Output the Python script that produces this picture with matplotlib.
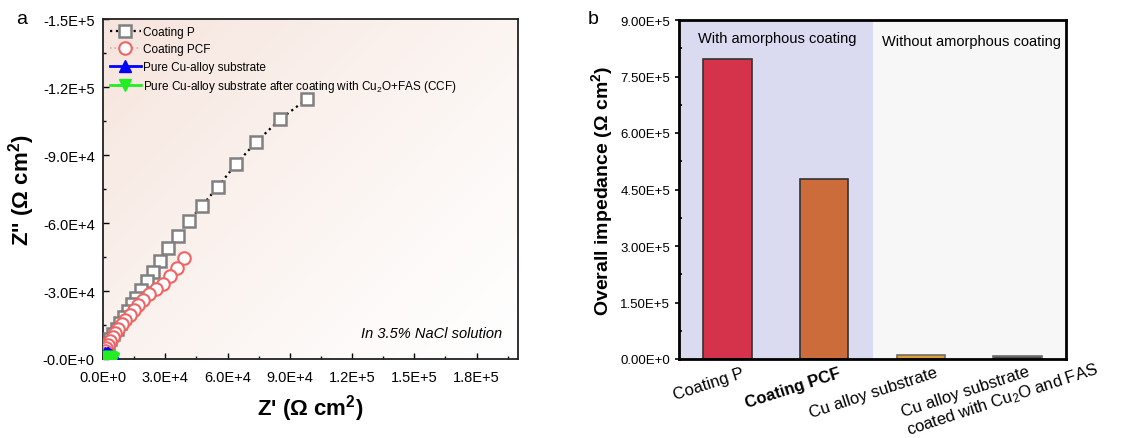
import numpy as np
import matplotlib
matplotlib.use("Agg")
import matplotlib.pyplot as plt
from matplotlib.ticker import MultipleLocator, FuncFormatter
from matplotlib.transforms import ScaledTranslation

plt.rcParams['font.family'] = ['Liberation Sans', 'DejaVu Sans']
plt.rcParams['mathtext.fontset'] = 'custom'
plt.rcParams['mathtext.rm'] = 'Liberation Sans'
plt.rcParams['mathtext.it'] = 'Liberation Sans:italic'
plt.rcParams['mathtext.bf'] = 'Liberation Sans:bold'

# --- panel a: Nyquist data (Z', -Z'') ---
p_re = [98400, 85300, 73800, 64000, 55200, 47700, 41600, 36300, 31500, 27700,
        24200, 21000, 18100, 15800, 13800, 12000, 10000, 8200, 6600, 5000,
        3600, 2400, 1400, 700, 200]
p_im = [114800, 105700, 95700, 85900, 75800, 67600, 61100, 54400, 48800, 43200,
        38600, 34200, 30500, 27100, 24100, 21300, 18500, 15800, 13400, 11000,
        8800, 6800, 4800, 3000, 1200]

pcf_re = [39200, 35700, 32500, 29000, 25600, 22400, 19500, 16800, 14700, 12800,
          10700, 9000, 7400, 6000, 4700, 3500, 2500, 1600, 900, 400, 100]
pcf_im = [44700, 40300, 36800, 33300, 30800, 28600, 26100, 23900, 21700, 19500,
          17300, 15300, 13300, 11400, 9600, 7900, 6300, 4800, 3400, 2100, 900]

cu_re = [600, 1200, 1800, 2400, 3000, 3800, 4600, 5600]
cu_im = [1800, 2500, 2700, 2600, 2200, 1600, 900, 300]

ccf_re = [300, 800, 1400, 2000, 2700, 3400, 4200, 5000]
ccf_im = [200, 500, 700, 800, 800, 700, 500, 200]

# --- panel b: overall impedance ---
categories = ["Coating P", "Coating PCF", "Cu alloy substrate",
              "Cu alloy substrate\ncoated with Cu$_2$O and FAS"]
impedance = [7.97e5, 4.77e5, 1.1e4, 7.0e3]
bar_colors = ['#d5334b', '#cc6c3b', '#e0a030', '#505050']
bar_edges = ['#333333', '#333333', '#6e6e6e', '#6e6e6e']


def sci(v, nd):
    v = round(v, 3)
    if v == 0:
        return f"{0:.{nd}f}E+0"
    e = int(np.floor(np.log10(abs(v)) + 1e-9))
    m = round(v / 10 ** e, nd)
    return f"{m:.{nd}f}E{'+' if e >= 0 else '-'}{abs(e)}"


fig = plt.figure(figsize=(11.48, 4.39), dpi=100)

# ---------------- panel a ----------------
ax1 = fig.add_axes([103 / 1148, 79 / 439, 415 / 1148, 340 / 439])

# soft pink gradient background
gx, gy = np.meshgrid(np.linspace(0, 1, 200), np.linspace(0, 1, 200))
t = np.clip(0.55 * (1 - gx) + 0.45 * gy, 0, 1) ** 1.2
pink = np.array([0.965, 0.895, 0.865])
img = np.ones((200, 200, 3)) * (1 - t[..., None]) + pink * t[..., None]
ax1.imshow(img, extent=(0, 1, 0, 1), transform=ax1.transAxes, origin='lower',
           aspect='auto', zorder=0)

ax1.plot(p_re, -np.array(p_im), linestyle=':', color='black', lw=1.6,
         marker='s', ms=8, mfc='white', mec='#808080', mew=1.8,
         label='Coating P', zorder=3)
ax1.plot(pcf_re, -np.array(pcf_im), linestyle=':', color='#f4a0a0', lw=1.2,
         marker='o', ms=9, mfc='white', mec='#f06464', mew=1.5,
         label='Coating PCF', zorder=4)
ax1.plot(cu_re, -np.array(cu_im), linestyle='-', color='blue', lw=2,
         marker='^', ms=9, label='Pure Cu-alloy substrate', zorder=5)
ax1.plot(ccf_re, -np.array(ccf_im), linestyle='-', color='#22ee22', lw=2,
         marker='v', ms=9,
         label='Pure Cu-alloy substrate after coating with Cu$_2$O+FAS (CCF)',
         zorder=6)

ax1.set_xlim(0, 2.0e5)
ax1.set_ylim(0, -1.5e5)
ax1.xaxis.set_major_locator(MultipleLocator(3e4))
ax1.xaxis.set_minor_locator(MultipleLocator(1.5e4))
ax1.yaxis.set_major_locator(MultipleLocator(3e4))
ax1.yaxis.set_minor_locator(MultipleLocator(1.5e4))
ax1.xaxis.set_major_formatter(FuncFormatter(lambda v, p: sci(v, 1)))
ax1.yaxis.set_major_formatter(FuncFormatter(lambda v, p: "-" + sci(abs(v), 1)))
ax1.tick_params(which='major', direction='in', length=4, width=1, labelsize=10.5)
ax1.tick_params(axis='x', which='major', pad=8)
ax1.tick_params(axis='y', which='major', pad=6)
ax1.tick_params(which='minor', direction='in', length=2.5, width=1)
for s in ax1.spines.values():
    s.set_linewidth(1.3)
    s.set_color('#222222')

ax1.set_xlabel("Z' (Ω cm$^\\mathbf{2}$)", fontsize=16, fontweight='bold', labelpad=6)
ax1.set_ylabel("Z'' (Ω cm$^\\mathbf{2}$)", fontsize=16, fontweight='bold', labelpad=4)

ax1.legend(loc='upper left', frameon=False, fontsize=8.5, handlelength=2.6,
           labelspacing=0.45, borderaxespad=0.3, handletextpad=0.2,
           borderpad=0.3)
ax1.text(0.962, 0.075, "In 3.5% NaCl solution", transform=ax1.transAxes,
         ha='right', va='center', fontsize=10.5, style='italic')
fig.text(22 / 1148, 1 - 20 / 439, "a", fontsize=14, ha='center', va='center')

# ---------------- panel b ----------------
ax2 = fig.add_axes([679 / 1148, 79 / 439, 387 / 1148, 339 / 439])
x = np.arange(len(categories))
ax2.axvspan(-0.5, 1.5, color='#dadaf1', zorder=0, lw=0)
ax2.axvspan(1.5, 3.5, color='#f7f7f7', zorder=0, lw=0)
ax2.bar(x, impedance, width=0.5, color=bar_colors, edgecolor=bar_edges,
        linewidth=1.2, zorder=2)

ax2.set_xlim(-0.5, 3.5)
ax2.set_ylim(0, 9e5)
ax2.yaxis.set_major_locator(MultipleLocator(1.5e5))
ax2.yaxis.set_minor_locator(MultipleLocator(7.5e4))
ax2.yaxis.set_major_formatter(FuncFormatter(lambda v, p: sci(v, 2)))
ax2.tick_params(axis='y', which='major', direction='out', length=3, width=1.2,
                labelsize=9.5)
ax2.tick_params(axis='y', which='minor', direction='in', length=2.5, width=1.2)
ax2.tick_params(axis='x', length=0, labelsize=12, pad=4)
ax2.set_xticks(x)
ax2.set_xticklabels(categories, rotation=18, ha='right', rotation_mode='anchor',
                    multialignment='left')
labels = ax2.get_xticklabels()
for i, lab in enumerate(labels):
    dx, dy = (14, 0) if i < 3 else (72, 22)
    lab.set_transform(lab.get_transform() +
                      ScaledTranslation(dx / 100, dy / 100, fig.dpi_scale_trans))
labels[1].set_fontweight('bold')
for s in ax2.spines.values():
    s.set_linewidth(2)
    s.set_color('black')

ax2.set_ylabel("Overall impedance (Ω cm$^\\mathbf{2}$)", fontsize=14,
               fontweight='bold', labelpad=4)
ax2.text(0.52, 8.53e5, "With amorphous coating", ha='center', va='center',
         fontsize=10.5)
ax2.text(2.52, 8.45e5, "Without amorphous coating", ha='center', va='center',
         fontsize=10.5)
fig.text(593 / 1148, 1 - 20 / 439, "b", fontsize=14, ha='center', va='center')

fig.savefig("out.png", dpi=100)
